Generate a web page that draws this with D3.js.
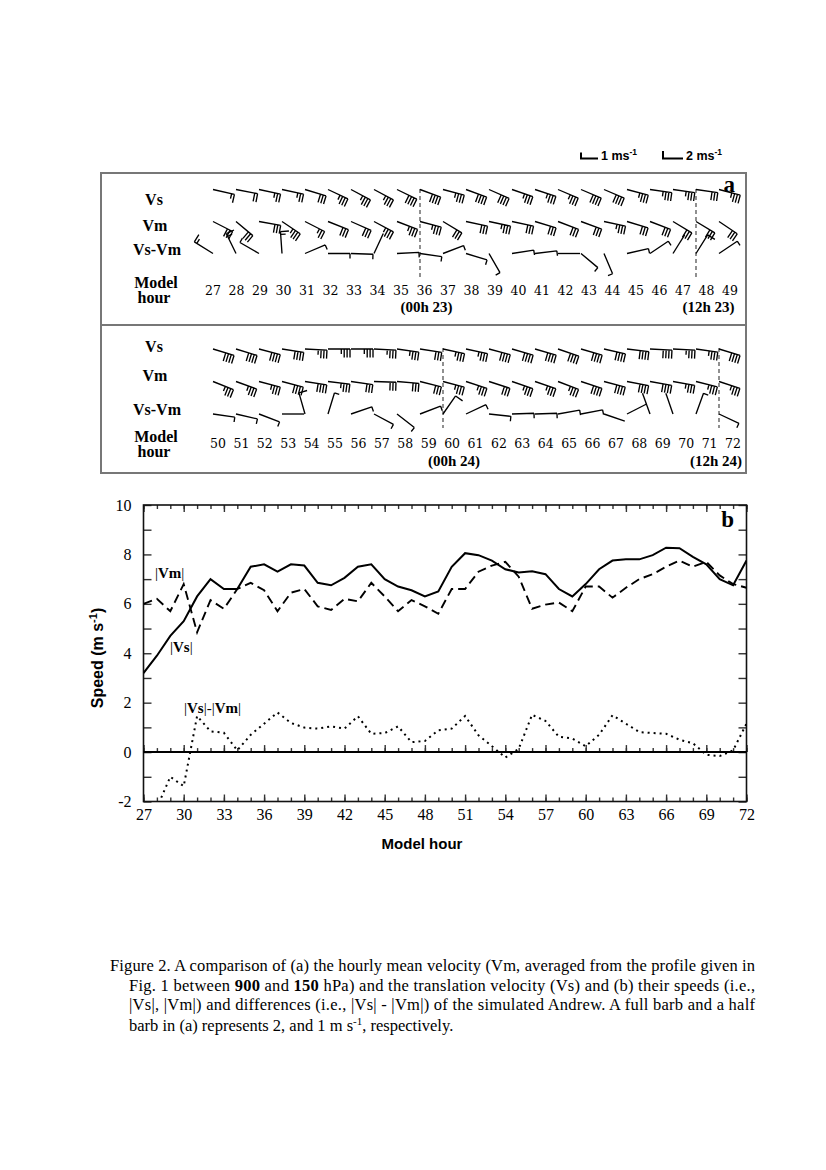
<!DOCTYPE html>
<html>
<head>
<meta charset="utf-8">
<script src="https://cdn.jsdelivr.net/npm/d3@7/dist/d3.min.js"></script>
<style>
  body { margin: 0; background: #fff; }
  svg { display: block; }
</style>
</head>
<body>
<svg id="fig" width="826" height="1170"></svg>
<script>
// Model hours 27..72
var hours = [27, 28, 29, 30, 31, 32, 33, 34, 35, 36, 37, 38, 39, 40, 41, 42, 43, 44, 45, 46, 47, 48, 49,
             50, 51, 52, 53, 54, 55, 56, 57, 58, 59, 60, 61, 62, 63, 64, 65, 66, 67, 68, 69, 70, 71, 72];

// |Vs| (solid), |Vm| (dashed), |Vs|-|Vm| (dotted), m/s
var speedVs = [3.2, 3.9, 4.7, 5.3, 6.3, 7.0, 6.6, 6.6, 7.5, 7.6, 7.3, 7.6, 7.55, 6.85, 6.75, 7.05, 7.5, 7.6, 7.0, 6.7, 6.55, 6.3, 6.5,
               7.5, 8.05, 7.97, 7.75, 7.4, 7.27, 7.32, 7.2, 6.6, 6.3, 6.8, 7.4, 7.75, 7.8, 7.8, 7.97, 8.27, 8.25, 7.9, 7.6, 7.0, 6.75, 7.75];
var speedVm = [6.0, 6.2, 5.7, 6.8, 4.85, 6.15, 5.8, 6.6, 6.85, 6.55, 5.7, 6.45, 6.6, 5.9, 5.75, 6.2, 6.1, 6.85, 6.3, 5.7, 6.15, 5.9, 5.6,
               6.6, 6.6, 7.3, 7.55, 7.7, 7.1, 5.8, 5.97, 6.05, 5.7, 6.7, 6.7, 6.25, 6.65, 7.0, 7.2, 7.5, 7.75, 7.5, 7.7, 7.15, 6.8, 6.65];
var speedDiff = [-2.8, -2.25, -1.0, -1.38, 1.46, 0.84, 0.78, 0.07, 0.7, 1.15, 1.6, 1.18, 0.99, 0.95, 1.04, 0.95, 1.45, 0.74, 0.77, 1.04, 0.4, 0.45, 0.88,
                 0.95, 1.46, 0.68, 0.24, -0.22, 0.13, 1.51, 1.26, 0.62, 0.55, 0.24, 0.7, 1.49, 1.15, 0.81, 0.77, 0.74, 0.5, 0.36, -0.11, -0.16, 0.07, 1.15];

// barb staff directions in panel a (degrees, screen angle, clockwise from east)
var dirVs = [13, 11, 12, 12, 17, 25, 28, 28, 26, 20, 15, 20, 24, 19, 18, 23, 23, 23, 15, 8, 8, 8, 15,
             17, 17, 15, 9, 3, 0, 0, 3, 8, 9, 12, 12, 15, 16, 16, 19, 16, 13, 7, 3, 3, 8, 17];
var dirVm = [27, 40, 10, 34, 27, 22, 24, 28, 21, 15, 31, 12, 12, 12, 17, 21, 20, 12, 17, 21, 31, 31, 34,
             22, 20, 15, 15, 9, 7, 8, 2, 5, 14, 15, 18, 18, 19, 19, 21, 18, 15, 11, 10, 10, 14, 18];
var dirDiff = [212, 244, 210, 266, 337, 0, 2, 295, 357, 8, 339, 17, 60, 351, 353, 0, 40, 67, 347, 326, 302, 302, 326,
               8, 13, 21, 0, 254, 287, 341, 28, 38, 339, 305, 335, 6, 358, 358, 350, 349, 19, 333, 250, 251, 290, 25];
// Vs-Vm barb speeds (m/s)
var barbDiff = [3, 3, 1, 3, 1, 1, 1, 0, 1, 1, 1, 1, 1, 1, 1, 0, 1, 1, 1, 1, 0, 2, 1,
                1, 1, 1, 0, 2, 1, 1, 1, 1, 1, 2, 1, 1, 1, 1, 1, 1, 0, 0, 0, 0, 1, 1];

var yTicks = [-2, -1, 0, 1, 2, 3, 4, 5, 6, 7, 8, 9, 10];
var xTickLabels = [27, 30, 33, 36, 39, 42, 45, 48, 51, 54, 57, 60, 63, 66, 69, 72];

var svg = d3.select('#fig');
var serif = '"Liberation Serif", "Times New Roman", serif';
var sans = '"Liberation Sans", Arial, sans-serif';

// ---------- barb scale legend ----------
var legend = svg.append('g').attr('fill', '#000').attr('font-family', sans).attr('font-weight', 'bold').attr('font-size', 12.5);
legend.append('path').attr('d', 'M581,152.5V158.5H598').attr('fill', 'none').attr('stroke', '#000').attr('stroke-width', 2);
legend.append('path').attr('d', 'M663,151V158.5H683').attr('fill', 'none').attr('stroke', '#000').attr('stroke-width', 2);
[{ x: 601, t: '1 ms' }, { x: 686, t: '2 ms' }].forEach(function (d) {
    var t = legend.append('text').attr('x', d.x).attr('y', 160);
    t.append('tspan').text(d.t);
    t.append('tspan').attr('dy', -5).attr('font-size', 8.5).text('-1');
});

// ---------- panel a ----------
var boxLeft = 101, boxRight = 746, boxTop = 173, boxMid = 325, boxBottom = 473;
svg.append('rect')
    .attr('x', boxLeft).attr('y', boxTop)
    .attr('width', boxRight - boxLeft).attr('height', boxBottom - boxTop)
    .attr('fill', 'none').attr('stroke', '#777').attr('stroke-width', 2);
svg.append('line')
    .attr('x1', boxLeft).attr('x2', boxRight).attr('y1', boxMid).attr('y2', boxMid)
    .attr('stroke', '#777').attr('stroke-width', 2);

var staffLen = 22, featherGap = 2.9, fullLen = 8.5, halfLen = 5;

function drawBarb(g, x0, y0, angle, speed) {
    var a = angle * Math.PI / 180;
    var dx = Math.cos(a), dy = Math.sin(a);
    var px = -dy, py = dx;
    var tx = x0 + staffLen * dx, ty = y0 + staffLen * dy;
    var n = Math.round(speed);
    var full = Math.floor(n / 2), half = n % 2;
    var p = d3.path();
    p.moveTo(x0, y0);
    p.lineTo(tx, ty);
    for (var i = 0; i < full; i++) {
        var bx = tx - i * featherGap * dx, by = ty - i * featherGap * dy;
        p.moveTo(bx, by);
        p.lineTo(bx + fullLen * px, by + fullLen * py);
    }
    if (half) {
        var hx = tx - full * featherGap * dx, hy = ty - full * featherGap * dy;
        p.moveTo(hx, hy);
        p.lineTo(hx + halfLen * px, hy + halfLen * py);
    }
    g.append('path').attr('d', p.toString())
        .attr('fill', 'none').attr('stroke', '#000').attr('stroke-width', 1.35);
}

var halves = [
    { from: 27, to: 49, labelRange: [213, 730], yVs: 189.5, yVm: 221.5, yDiff: 253.5,
      tVs: 205, tVm: 231, tDiff: 255, tModel: 288, tHour: 303, tNum: 294.5, tDate: 312,
      dashTop: 189, dashBottom: 278, marks: [{ h: 36, t: '(00h 23)' }, { h: 48, t: '(12h 23)' }] },
    { from: 50, to: 72, labelRange: [218, 733], yVs: 349, yVm: 381.5, yDiff: 414,
      tVs: 352, tVm: 381, tDiff: 415, tModel: 442, tHour: 457, tNum: 447.5, tDate: 466,
      dashTop: 348, dashBottom: 428, marks: [{ h: 60, t: '(00h 24)' }, { h: 72, t: '(12h 24)' }] }
];

halves.forEach(function (hf) {
    var g = svg.append('g');
    var sx = d3.scaleLinear().domain([hf.from, hf.to]).range([213, 719]);
    var lx = d3.scaleLinear().domain([hf.from, hf.to]).range(hf.labelRange);

    // row labels
    var lab = g.append('g').attr('font-family', serif).attr('font-weight', 'bold')
        .attr('font-size', 16).attr('text-anchor', 'middle');
    lab.append('text').attr('x', 154).attr('y', hf.tVs).text('Vs');
    lab.append('text').attr('x', 155).attr('y', hf.tVm).text('Vm');
    lab.append('text').attr('x', 157).attr('y', hf.tDiff).text('Vs-Vm');
    lab.append('text').attr('x', 156).attr('y', hf.tModel).text('Model');
    lab.append('text').attr('x', 154).attr('y', hf.tHour).text('hour');

    // dashed day markers
    hf.marks.forEach(function (m) {
        g.append('line')
            .attr('x1', sx(m.h)).attr('x2', sx(m.h))
            .attr('y1', hf.dashTop).attr('y2', hf.dashBottom)
            .attr('stroke', '#555').attr('stroke-width', 1.3).attr('stroke-dasharray', '4,3');
        g.append('text')
            .attr('x', Math.min(lx(m.h) + 2, boxRight - 30)).attr('y', hf.tDate)
            .attr('text-anchor', 'middle').attr('font-family', serif)
            .attr('font-weight', 'bold').attr('font-size', 15).text(m.t);
    });

    hours.forEach(function (h, i) {
        if (h < hf.from || h > hf.to) return;
        drawBarb(g, sx(h), hf.yVs, dirVs[i], speedVs[i]);
        drawBarb(g, sx(h), hf.yVm, dirVm[i], speedVm[i]);
        drawBarb(g, sx(h), hf.yDiff, dirDiff[i], barbDiff[i]);
        g.append('text')
            .attr('x', lx(h)).attr('y', hf.tNum)
            .attr('text-anchor', 'middle')
            .attr('font-family', '"DejaVu Serif", serif').attr('font-size', 12.5)
            .text(h);
    });

    if (hf.from === 27) {
        g.append('text').attr('x', 735).attr('y', 192).attr('text-anchor', 'end')
            .attr('font-family', serif).attr('font-weight', 'bold').attr('font-size', 23).text('a');
    }
});

// ---------- panel b ----------
var plotLeft = 143.5, plotRight = 746.5, plotTop = 505, plotBottom = 801.5;
var x = d3.scaleLinear().domain([27, 72]).range([plotLeft, plotRight]);
var y = d3.scaleLinear().domain([-2, 10]).range([plotBottom, plotTop]);
var gb = svg.append('g');

gb.append('clipPath').attr('id', 'plotClip')
    .append('rect').attr('x', plotLeft).attr('y', plotTop)
    .attr('width', plotRight - plotLeft).attr('height', plotBottom - plotTop);

function styleAxis(sel) {
    sel.select('.domain').remove();
    sel.selectAll('.tick line').attr('stroke', '#333').attr('stroke-width', 1.4);
    sel.selectAll('.tick text').attr('font-family', serif).attr('font-size', 16).attr('fill', '#000');
}

var majorHours = xTickLabels;
// top ticks
gb.append('g').attr('transform', 'translate(0,' + plotTop + ')')
    .call(d3.axisTop(x).tickValues(hours).tickSize(-4).tickFormat('')).call(styleAxis);
gb.append('g').attr('transform', 'translate(0,' + plotTop + ')')
    .call(d3.axisTop(x).tickValues(majorHours).tickSize(-7).tickFormat('')).call(styleAxis);
// zero line ticks
gb.append('g').attr('transform', 'translate(0,' + y(0) + ')')
    .call(d3.axisTop(x).tickValues(hours).tickSize(4).tickFormat('')).call(styleAxis);
gb.append('g').attr('transform', 'translate(0,' + y(0) + ')')
    .call(d3.axisTop(x).tickValues(majorHours).tickSize(7).tickFormat('')).call(styleAxis);
// bottom ticks + labels
gb.append('g').attr('transform', 'translate(0,' + plotBottom + ')')
    .call(d3.axisBottom(x).tickValues(hours).tickSize(-4).tickFormat('')).call(styleAxis);
gb.append('g').attr('transform', 'translate(0,' + plotBottom + ')')
    .call(d3.axisBottom(x).tickValues(majorHours).tickSize(-7).tickPadding(7).tickFormat(d3.format('d'))).call(styleAxis);
// left / right ticks
gb.append('g').attr('transform', 'translate(' + plotLeft + ',0)')
    .call(d3.axisLeft(y).tickValues(yTicks).tickSize(-8).tickPadding(12)
        .tickFormat(function (v) { return v % 2 === 0 ? v : ''; }))
    .call(styleAxis);
gb.append('g').attr('transform', 'translate(' + plotRight + ',0)')
    .call(d3.axisRight(y).tickValues(yTicks).tickSize(-8).tickFormat('')).call(styleAxis);

// frame and zero line
gb.append('rect').attr('x', plotLeft).attr('y', plotTop)
    .attr('width', plotRight - plotLeft).attr('height', plotBottom - plotTop)
    .attr('fill', 'none').attr('stroke', '#111').attr('stroke-width', 1.6);
gb.append('line').attr('x1', plotLeft).attr('x2', plotRight).attr('y1', y(0)).attr('y2', y(0))
    .attr('stroke', '#000').attr('stroke-width', 2);

var line = d3.line()
    .x(function (d) { return x(d[0]); })
    .y(function (d) { return y(d[1]); });
function pairs(vals) { return hours.map(function (h, i) { return [h, vals[i]]; }); }

var lines = gb.append('g').attr('clip-path', 'url(#plotClip)').attr('fill', 'none').attr('stroke', '#000');
lines.append('path').datum(pairs(speedVm)).attr('d', line)
    .attr('stroke-width', 1.9).attr('stroke-dasharray', '9,5');
lines.append('path').datum(pairs(speedVs)).attr('d', line)
    .attr('stroke-width', 2);
lines.append('path').datum(pairs(speedDiff)).attr('d', line)
    .attr('stroke-width', 2).attr('stroke-dasharray', '2,4');

// series labels
function absLabel(xp, yp, parts) {
    var t = gb.append('text').attr('x', xp).attr('y', yp).attr('font-family', serif).attr('font-size', 15);
    parts.forEach(function (p) {
        t.append('tspan').attr('font-weight', p.b ? 'bold' : 'normal').text(p.t);
    });
}
absLabel(155, 578, [{ t: '|' }, { t: 'Vm', b: 1 }, { t: '|' }]);
absLabel(170, 652, [{ t: '|' }, { t: 'Vs', b: 1 }, { t: '|' }]);
absLabel(184, 713, [{ t: '|' }, { t: 'Vs', b: 1 }, { t: '|-|' }, { t: 'Vm', b: 1 }, { t: '|' }]);

gb.append('text').attr('x', 734).attr('y', 527).attr('text-anchor', 'end')
    .attr('font-family', serif).attr('font-weight', 'bold').attr('font-size', 23).text('b');

// axis titles
gb.append('text').attr('x', 422).attr('y', 849).attr('text-anchor', 'middle')
    .attr('font-family', sans).attr('font-weight', 'bold').attr('font-size', 15).text('Model hour');
var yt = gb.append('text').attr('transform', 'translate(103,658) rotate(-90)').attr('text-anchor', 'middle')
    .attr('font-family', sans).attr('font-weight', 'bold').attr('font-size', 16);
yt.append('tspan').text('Speed (m s');
yt.append('tspan').attr('dy', -6).attr('font-size', 11).text('-1');
yt.append('tspan').attr('dy', 6).text(')');

// ---------- caption ----------
var cap = svg.append('g').attr('font-family', serif).attr('font-size', 16.5).attr('fill', '#000');
cap.append('text').attr('x', 110).attr('y', 971).attr('textLength', 645).attr('lengthAdjust', 'spacing')
    .text('Figure 2. A comparison of (a) the hourly mean velocity (Vm, averaged from the profile given in');
var c2 = cap.append('text').attr('x', 129).attr('y', 991).attr('textLength', 626).attr('lengthAdjust', 'spacing');
c2.append('tspan').text('Fig. 1 between ');
c2.append('tspan').attr('font-weight', 'bold').text('900');
c2.append('tspan').text(' and ');
c2.append('tspan').attr('font-weight', 'bold').text('150');
c2.append('tspan').text(' hPa) and the translation velocity (Vs) and (b) their speeds (i.e.,');
cap.append('text').attr('x', 129).attr('y', 1010).attr('textLength', 626).attr('lengthAdjust', 'spacing')
    .text('|Vs|, |Vm|) and differences (i.e., |Vs| - |Vm|) of the simulated Andrew. A full barb and a half');
var c4 = cap.append('text').attr('x', 129).attr('y', 1031);
c4.append('tspan').text('barb in (a) represents 2, and 1 m s');
c4.append('tspan').attr('dy', -6).attr('font-size', 11).text('-1');
c4.append('tspan').attr('dy', 6).text(', respectively.');
</script>
</body>
</html>
